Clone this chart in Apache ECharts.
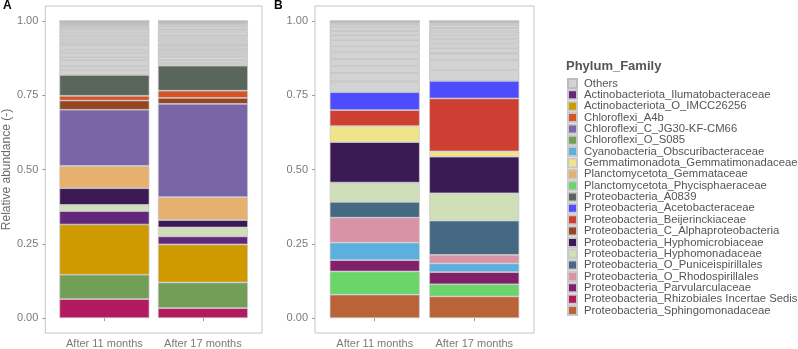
<!DOCTYPE html>
<html>
<head>
<meta charset="utf-8">
<script src="https://cdn.jsdelivr.net/npm/echarts@6/dist/echarts.min.js"></script>
<style>
html, body { margin: 0; padding: 0; background: #fff; }
#chart { width: 798px; height: 349px; }
</style>
</head>
<body>
<div id="chart"></div>
<script>
// categories (x axis of both panels)
const categories = ['After 11 months', 'After 17 months'];

// panel A, families from bottom to top
const familiesA = [
	'Proteobacteria_Rhizobiales Incertae Sedis',
	'Chloroflexi_O_S085',
	'Actinobacteriota_O_IMCC26256',
	'Actinobacteriota_Ilumatobacteraceae',
	'Proteobacteria_Hyphomonadaceae',
	'Proteobacteria_Hyphomicrobiaceae',
	'Planctomycetota_Gemmataceae',
	'Chloroflexi_C_JG30-KF-CM66',
	'Proteobacteria_C_Alphaproteobacteria',
	'Chloroflexi_A4b',
	'Proteobacteria_A0839'
];
const valuesA11 = [0.064, 0.082, 0.169, 0.045, 0.021, 0.056, 0.075, 0.189, 0.031, 0.016, 0.070];
const valuesA17 = [0.034, 0.086, 0.128, 0.027, 0.030, 0.025, 0.077, 0.314, 0.020, 0.024, 0.084];
// minor families lumped as "Others", bottom to top
const othersA11 = [0.016, 0.013, 0.021, 0.010, 0.014, 0.011, 0.014, 0.006, 0.008, 0.009, 0.010, 0.009, 0.009, 0.008, 0.006, 0.004, 0.003, 0.003, 0.002, 0.002, 0.001, 0.001, 0.001, 0.001];
const othersA17 = [0.008, 0.011, 0.011, 0.008, 0.007, 0.008, 0.008, 0.008, 0.009, 0.010, 0.007, 0.008, 0.012, 0.008, 0.010, 0.007, 0.003, 0.002, 0.002, 0.001, 0.001, 0.001, 0.001];

// panel B, families from bottom to top
const familiesB = [
	'Proteobacteria_Sphingomonadaceae',
	'Planctomycetota_Phycisphaeraceae',
	'Proteobacteria_Parvularculaceae',
	'Cyanobacteria_Obscuribacteraceae',
	'Proteobacteria_O_Rhodospirillales',
	'Proteobacteria_O_Puniceispirillales',
	'Proteobacteria_Hyphomonadaceae',
	'Proteobacteria_Hyphomicrobiaceae',
	'Gemmatimonadota_Gemmatimonadaceae',
	'Proteobacteria_Beijerinckiaceae',
	'Proteobacteria_Acetobacteraceae'
];
const valuesB11 = [0.079, 0.078, 0.038, 0.059, 0.084, 0.053, 0.065, 0.136, 0.054, 0.054, 0.060];
const valuesB17 = [0.073, 0.041, 0.041, 0.029, 0.029, 0.115, 0.092, 0.123, 0.018, 0.178, 0.059];
const othersB11 = [0.036, 0.029, 0.023, 0.024, 0.022, 0.021, 0.020, 0.017, 0.014, 0.014, 0.009, 0.005, 0.002, 0.001, 0.001, 0.001, 0.001];
const othersB17 = [0.037, 0.033, 0.023, 0.017, 0.016, 0.014, 0.013, 0.013, 0.012, 0.011, 0.006, 0.003, 0.001, 0.001, 0.001, 0.001];

// legend entries
const legendNames = [
	'Others',
	'Actinobacteriota_Ilumatobacteraceae',
	'Actinobacteriota_O_IMCC26256',
	'Chloroflexi_A4b',
	'Chloroflexi_C_JG30-KF-CM66',
	'Chloroflexi_O_S085',
	'Cyanobacteria_Obscuribacteraceae',
	'Gemmatimonadota_Gemmatimonadaceae',
	'Planctomycetota_Gemmataceae',
	'Planctomycetota_Phycisphaeraceae',
	'Proteobacteria_A0839',
	'Proteobacteria_Acetobacteraceae',
	'Proteobacteria_Beijerinckiaceae',
	'Proteobacteria_C_Alphaproteobacteria',
	'Proteobacteria_Hyphomicrobiaceae',
	'Proteobacteria_Hyphomonadaceae',
	'Proteobacteria_O_Puniceispirillales',
	'Proteobacteria_O_Rhodospirillales',
	'Proteobacteria_Parvularculaceae',
	'Proteobacteria_Rhizobiales Incertae Sedis',
	'Proteobacteria_Sphingomonadaceae'
];
const yTicks = [0, 0.25, 0.5, 0.75, 1];

// colours per family
const familyColors = {
	'Others': '#d3d3d3',
	'Actinobacteriota_Ilumatobacteraceae': '#60277a',
	'Actinobacteriota_O_IMCC26256': '#cf9a00',
	'Chloroflexi_A4b': '#d35527',
	'Chloroflexi_C_JG30-KF-CM66': '#7a65a8',
	'Chloroflexi_O_S085': '#739e58',
	'Cyanobacteria_Obscuribacteraceae': '#5bb0dd',
	'Gemmatimonadota_Gemmatimonadaceae': '#f0e48a',
	'Planctomycetota_Gemmataceae': '#e6b06e',
	'Planctomycetota_Phycisphaeraceae': '#6ad66a',
	'Proteobacteria_A0839': '#5a665c',
	'Proteobacteria_Acetobacteraceae': '#4d4dff',
	'Proteobacteria_Beijerinckiaceae': '#ce3e32',
	'Proteobacteria_C_Alphaproteobacteria': '#944622',
	'Proteobacteria_Hyphomicrobiaceae': '#3b1a53',
	'Proteobacteria_Hyphomonadaceae': '#d0dfb8',
	'Proteobacteria_O_Puniceispirillales': '#456883',
	'Proteobacteria_O_Rhodospirillales': '#d893a6',
	'Proteobacteria_Parvularculaceae': '#821f6a',
	'Proteobacteria_Rhizobiales Incertae Sedis': '#b21a60',
	'Proteobacteria_Sphingomonadaceae': '#ba6338'
};

const font = 'Liberation Sans';
const labelColor = '#7a7a7a';
const frameColor = '#c4c4c4';

let myChart = echarts.init(document.getElementById('chart'));

// build stacked series for one panel
// data items are [value, position] so the stacked dimension is the y value
function panelSeries(families, v11, v17, o11, o17, idx) {
	let list = [];
	let stackName = 'panel' + idx;
	function bar(name, a, b) {
		return {
			name: name,
			type: 'bar',
			stack: stackName,
			xAxisIndex: idx,
			yAxisIndex: idx,
			barWidth: 90,
			encode: { x: 1, y: 0 },
			itemStyle: {
				color: familyColors[name],
				borderColor: name === 'Others' ? '#bcbcbc' : '#c8c8c8',
				borderWidth: 0.7
			},
			emphasis: { disabled: true },
			data: [[a === undefined ? '-' : a, 1], [b === undefined ? '-' : b, 2]]
		};
	}
	families.forEach(function(f, i) {
		list.push(bar(f, v11[i], v17[i]));
	});
	let n = Math.max(o11.length, o17.length);
	for (let i = 0; i < n; i++) {
		list.push(bar('Others', o11[i], o17[i]));
	}
	return list;
}

function xAxisFor(idx) {
	return {
		type: 'value',
		gridIndex: idx,
		min: 0.4,
		max: 2.6,
		axisLine: { show: false },
		splitLine: { show: false },
		axisTick: { show: true, length: 3, customValues: [1, 2], lineStyle: { color: '#9a9a9a' } },
		axisLabel: {
			customValues: [1, 2],
			formatter: function(v) { return categories[Math.round(v) - 1]; },
			margin: 5,
			fontSize: 11,
			fontFamily: font,
			color: labelColor
		}
	};
}

function yAxisFor(idx) {
	let axis = {
		type: 'value',
		gridIndex: idx,
		min: -0.05,
		max: 1.05,
		axisLine: { show: false },
		splitLine: { show: false },
		axisTick: { show: true, length: 3, customValues: yTicks, lineStyle: { color: '#9a9a9a' } },
		axisLabel: {
			customValues: yTicks,
			formatter: function(v) { return v.toFixed(2); },
			margin: 7,
			fontSize: 11,
			fontFamily: font,
			color: labelColor
		}
	};
	if (idx === 0) {
		axis.name = 'Relative abundance (-)';
		axis.nameLocation = 'middle';
		axis.nameGap = 29;
		axis.nameTextStyle = { fontSize: 12, fontFamily: font, color: '#6a6a6a' };
	}
	return axis;
}

let option = {
	animation: false,
	title: [
		{ text: 'A', left: 3, top: 0, padding: 0, textStyle: { fontSize: 12, fontWeight: 'bold', fontFamily: font, color: '#000' } },
		{ text: 'B', left: 274, top: 0, padding: 0, textStyle: { fontSize: 12, fontWeight: 'bold', fontFamily: font, color: '#000' } },
		{ text: 'Phylum_Family', left: 566, top: 60, padding: 0, textStyle: { fontSize: 13, fontWeight: 'bold', fontFamily: font, color: '#555' } }
	],
	legend: {
		orient: 'vertical',
		left: 567,
		top: 78,
		bottom: 0,
		padding: 0,
		itemWidth: 9,
		itemHeight: 9,
		itemGap: 0.35,
		icon: 'rect',
		selectedMode: false,
		data: legendNames,
		textStyle: { fontSize: 11.3, fontFamily: font, color: '#555', padding: [0, 0, 0, 2] }
	},
	grid: [
		{ left: 43, top: 6, width: 219, height: 328, show: true, borderColor: frameColor, borderWidth: 1 },
		{ left: 315, top: 6, width: 219, height: 328, show: true, borderColor: frameColor, borderWidth: 1 }
	],
	xAxis: [xAxisFor(0), xAxisFor(1)],
	yAxis: [yAxisFor(0), yAxisFor(1)],
	series: panelSeries(familiesA, valuesA11, valuesA17, othersA11, othersA17, 0)
		.concat(panelSeries(familiesB, valuesB11, valuesB17, othersB11, othersB17, 1))
};

myChart.setOption(option);

window.addEventListener('resize', function() {
	myChart.resize();
});
</script>
</body>
</html>
